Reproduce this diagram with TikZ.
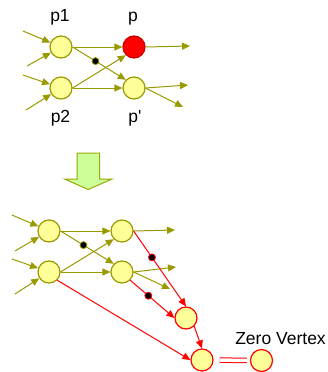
\documentclass[tikz,border=0pt]{standalone}
\usepackage{fontspec}
\setmainfont{Liberation Sans}[Ligatures=TeXOff]
\usetikzlibrary{arrows.meta}

\definecolor{lineolive}{HTML}{999900}
\definecolor{nodeyellow}{HTML}{FFFF99}
\definecolor{hotred}{HTML}{FF0000}
\definecolor{arrowgreen}{HTML}{CCFF99}
\definecolor{arrowedge}{HTML}{99AA00}

\begin{document}
\begin{tikzpicture}[
  x=1pt, y=-1pt,
  vtx/.style={circle, draw=lineolive, fill=nodeyellow, line width=1.2pt,
              minimum size=22pt, inner sep=0pt},
  hot/.style={vtx, draw=hotred},
  edge/.style={draw=lineolive, line width=1pt,
               -{Triangle[length=8pt, width=7pt]}},
  redge/.style={edge, draw=hotred},
  dot/.style={circle, fill=black, draw=lineolive, line width=0.8pt,
              minimum size=7pt, inner sep=0pt},
  rdot/.style={dot, draw=hotred},
  lab/.style={font=\fontsize{17.5}{20}\selectfont, anchor=base, inner sep=0pt}
]
\useasboundingbox (0,0) rectangle (327,372);

% ── before: the two parents and their children ──────────────────────
\node[vtx] (p1) at (61,47) {};
\node[vtx] (p2) at (61,88) {};
\node[vtx, fill=hotred, draw=hotred!80!black] (p) at (134,47) {};
\node[vtx] (pp) at (134,88) {};

\node[lab] (lp1) at (60,21.5)   {p1};
\node[lab] (lp)  at (133,21.5)  {p};
\node[lab] (lp2) at (60.5,122.5) {p2};
\node[lab] (lpp) at (135,122.5) {p'};

\coordinate (i11) at (23,31);
\coordinate (i12) at (27,66);
\coordinate (i21) at (23,75);
\coordinate (i22) at (26,110);
\coordinate (op)   at (190,46);
\coordinate (opp1) at (188,85);
\coordinate (opp2) at (183,107);

\draw[edge] (i11) -- (p1);
\draw[edge] (i12) -- (p1);
\draw[edge] (i21) -- (p2);
\draw[edge] (i22) -- (p2);
\draw[edge] (p1.east) -- (p.west);
\draw[edge] (p1.east) -- node[dot, pos=0.43] {} (pp.north west);
\draw[edge] (p2.east) -- (p.south west);
\draw[edge] (p2.east) -- (pp.west);
\draw[edge] (p.east) -- (op);
\draw[edge] (pp.east) -- (opp1);
\draw[edge] (pp.east) -- (opp2);

% ── the big arrow ───────────────────────────────────────────────────
\draw[draw=arrowedge, fill=arrowgreen, line width=1pt, line join=miter]
  (77,153) -- (99.5,153) -- (99.5,179) -- (112,179) -- (88.2,189.5)
  -- (64.5,179) -- (77,179) -- cycle;

% ── after: the zero vertex chain ────────────────────────────────────
\node[vtx] (a1) at (49,231) {};
\node[vtx] (a2) at (49,272) {};
\node[vtx] (b1) at (122,231) {};
\node[vtx] (b2) at (122,272) {};
\node[hot] (c)    at (186,318) {};
\node[hot] (d)    at (202,360) {};
\node[hot] (zero) at (261.5,360.5) {};

\node[lab] (lzero) at (280.5,344.5) {Zero Vertex};

\coordinate (j11) at (12,215);
\coordinate (j12) at (15,251);
\coordinate (j21) at (12,259);
\coordinate (j22) at (15,294);
\coordinate (ob1)  at (175,230);
\coordinate (ob21) at (176,267);
\coordinate (ob22) at (170,289);

\draw[edge] (j11) -- (a1);
\draw[edge] (j12) -- (a1);
\draw[edge] (j21) -- (a2);
\draw[edge] (j22) -- (a2);
\draw[edge] (a1.east) -- (b1.west);
\draw[edge] (a1.east) -- node[dot, pos=0.43] {} (b2.north west);
\draw[edge] (a2.east) -- (b1.south west);
\draw[edge] (a2.east) -- (b2.west);
\draw[edge] (b1.east) -- (ob1);
\draw[edge] (b2.east) -- (ob21);
\draw[edge] (b2.east) -- (ob22);

\draw[redge] (b1.east) -- node[rdot, pos=0.35] {} (c.north);
\draw[redge] (b2.south east) -- node[rdot, pos=0.41] {} (c.west);
\draw[redge] (c.south east) -- (d.north);
\draw[redge] (a2.south east) -- (d.west);

\draw[hotred, line width=1pt, double=white, double distance=3.5pt,
      shorten <=6pt, shorten >=3pt] (d.east) -- (zero.west);

\end{tikzpicture}
\end{document}
